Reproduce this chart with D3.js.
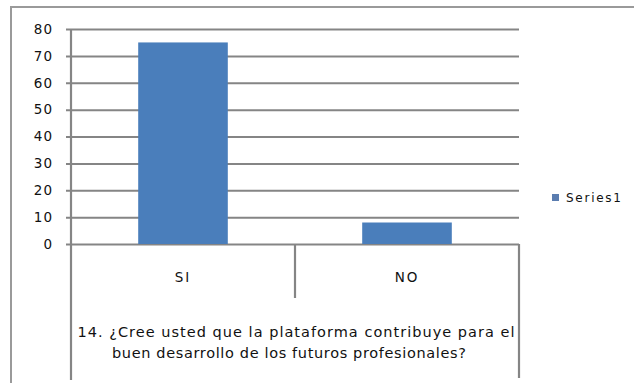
<!DOCTYPE html>
<html>
<head>
<meta charset="utf-8">
<script src="https://cdn.jsdelivr.net/npm/d3@7"></script>
<style>
  html, body { margin: 0; padding: 0; background: #fff; }
  svg { display: block; }
  text { font-family: "DejaVu Sans", Verdana, sans-serif; fill: #111; }
</style>
</head>
<body>
<svg id="chart" width="634" height="383"></svg>
<script>
// Survey responses for question 14
const categories = ["SI", "NO"];
const seriesName = "Series1";
const values = [75, 8];
const yTicks = [0, 10, 20, 30, 40, 50, 60, 70, 80];
const axisTitle = [
  "14. ¿Cree usted que la plataforma contribuye para el",
  "buen desarrollo de los futuros profesionales?"
];

const svg = d3.select("#chart");
const W = 634, H = 383;
const plot = { left: 71, right: 519, top: 29, bottom: 244 };
const gridColor = "#858585";
const barColor = "#4a7ebb";

// Chart area frame
svg.append("rect")
  .attr("x", 11).attr("y", 7)
  .attr("width", W - 11 + 5).attr("height", H)
  .attr("fill", "#fff")
  .attr("stroke", "#9a9a9a").attr("stroke-width", 2);

const x = d3.scaleBand()
  .domain(categories)
  .range([plot.left, plot.right])
  .paddingInner(0).paddingOuter(0);

const y = d3.scaleLinear()
  .domain([0, 80])
  .range([plot.bottom, plot.top]);

// Horizontal gridlines with tick labels
const yAxis = d3.axisLeft(y)
  .tickValues(yTicks)
  .tickSize(-(plot.right - plot.left))
  .tickPadding(18)
  .tickFormat(d3.format("d"));

const gy = svg.append("g")
  .attr("transform", `translate(${plot.left},0)`)
  .call(yAxis);
gy.select(".domain").remove();
gy.selectAll(".tick line")
  .attr("x1", -5)
  .attr("stroke", gridColor)
  .attr("stroke-width", 2);
gy.selectAll(".tick text")
  .attr("font-family", "'DejaVu Sans', Verdana, sans-serif")
  .attr("font-size", 13.5)
  .attr("letter-spacing", 1)
  .attr("fill", "#111");

// Vertical axis line, extended down through the category label box
svg.append("line")
  .attr("x1", plot.left).attr("x2", plot.left)
  .attr("y1", plot.top).attr("y2", 380)
  .attr("stroke", gridColor).attr("stroke-width", 2.2);

// Category box: divider between categories and right edge
svg.append("line")
  .attr("x1", x(categories[1])).attr("x2", x(categories[1]))
  .attr("y1", plot.bottom).attr("y2", 298)
  .attr("stroke", gridColor).attr("stroke-width", 2.2);
svg.append("line")
  .attr("x1", plot.right).attr("x2", plot.right)
  .attr("y1", plot.bottom).attr("y2", 378)
  .attr("stroke", gridColor).attr("stroke-width", 2.2);

// Bars
const barW = x.bandwidth() * 0.4;
svg.append("g").selectAll("rect")
  .data(values)
  .join("rect")
  .attr("x", (d, i) => x(categories[i]) + (x.bandwidth() - barW) / 2)
  .attr("y", d => y(d))
  .attr("width", barW)
  .attr("height", d => y(0) - y(d))
  .attr("fill", barColor);

// Category labels
svg.append("g").selectAll("text")
  .data(categories)
  .join("text")
  .attr("x", d => x(d) + x.bandwidth() / 2)
  .attr("y", 282)
  .attr("text-anchor", "middle")
  .attr("font-size", 13.5)
  .attr("letter-spacing", 2)
  .text(d => d);

// Grouping label under the categories
const titleWidths = [437, 354];
const titleCenters = [296, 289];
svg.append("g").selectAll("text")
  .data(axisTitle)
  .join("text")
  .attr("x", (d, i) => titleCenters[i])
  .attr("y", (d, i) => 337 + i * 21)
  .attr("text-anchor", "middle")
  .attr("font-size", 14.5)
  .attr("textLength", (d, i) => titleWidths[i])
  .attr("lengthAdjust", "spacing")
  .text(d => d);

// Legend
const lg = svg.append("g").attr("transform", "translate(552,198)");
lg.append("rect")
  .attr("x", 0).attr("y", -4)
  .attr("width", 7).attr("height", 7)
  .attr("fill", "#5b7db0");
lg.append("text")
  .attr("x", 14).attr("y", 4)
  .attr("font-size", 12)
  .attr("textLength", 55)
  .attr("lengthAdjust", "spacing")
  .text(seriesName);
</script>
</body>
</html>
